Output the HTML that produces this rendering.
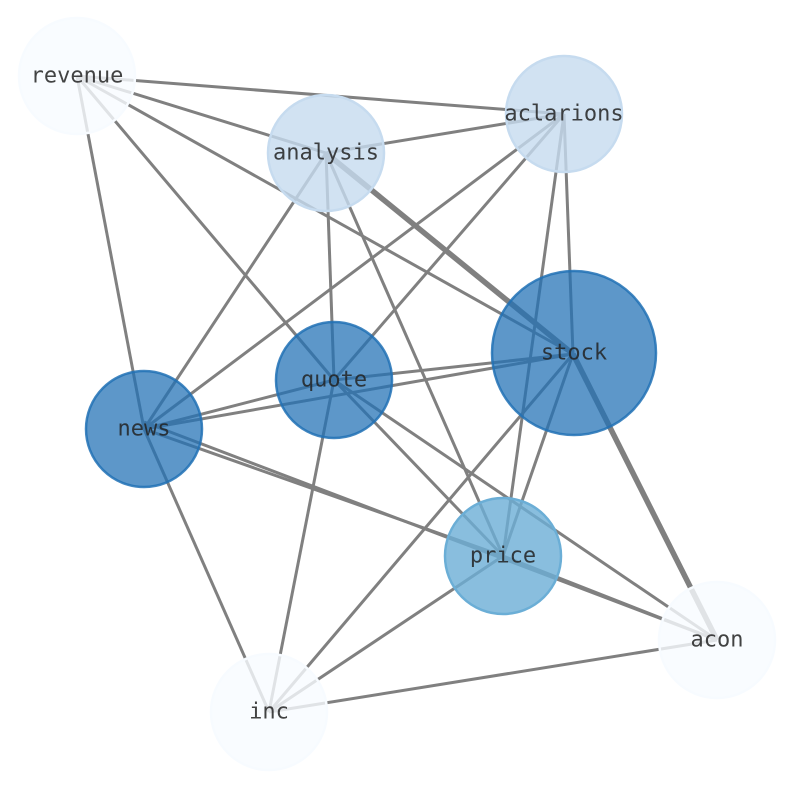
<!DOCTYPE html>
<html><head><style>body{margin:0;background:#fff}svg{display:block}</style></head><body>
<svg width="794" height="790" viewBox="0 0 794 790" xmlns="http://www.w3.org/2000/svg">
<g stroke="#808080" stroke-width="3">
<line x1="77" y1="76" x2="564" y2="114"/>
<line x1="77" y1="76" x2="326" y2="153"/>
<line x1="77" y1="76" x2="573" y2="354"/>
<line x1="77" y1="76" x2="334" y2="380"/>
<line x1="77" y1="76" x2="144" y2="429"/>
<line x1="564" y1="114" x2="326" y2="153"/>
<line x1="564" y1="114" x2="144" y2="429"/>
<line x1="564" y1="114" x2="334" y2="380"/>
<line x1="564" y1="114" x2="503" y2="556"/>
<line x1="564" y1="114" x2="573" y2="354"/>
<line x1="326" y1="153" x2="144" y2="429"/>
<line x1="326" y1="153" x2="334" y2="380"/>
<line x1="326" y1="153" x2="503" y2="556"/>
<line x1="326" y1="153" x2="573" y2="354" stroke-width="5.5"/>
<line x1="573" y1="354" x2="717" y2="640" stroke-width="5.5"/>
<line x1="573" y1="354" x2="334" y2="380"/>
<line x1="573" y1="354" x2="144" y2="429"/>
<line x1="573" y1="354" x2="503" y2="556"/>
<line x1="573" y1="354" x2="269" y2="712"/>
<line x1="334" y1="380" x2="144" y2="429"/>
<line x1="334" y1="380" x2="269" y2="712"/>
<line x1="334" y1="380" x2="503" y2="556"/>
<line x1="334" y1="380" x2="717" y2="640"/>
<line x1="144" y1="429" x2="503" y2="556"/>
<line x1="144" y1="422" x2="717" y2="640"/>
<line x1="144" y1="429" x2="269" y2="712"/>
<line x1="503" y1="556" x2="269" y2="712"/>
<line x1="503" y1="556" x2="717" y2="640"/>
<line x1="269" y1="712" x2="717" y2="640"/>
</g>
<g stroke-width="2.5">
<circle cx="77" cy="76" r="58" fill="#f7fbff" fill-opacity="0.8" stroke="#f7fbff"/>
<circle cx="564" cy="114" r="58" fill="#c6dbef" fill-opacity="0.8" stroke="#c6dbef"/>
<circle cx="326" cy="153" r="58" fill="#c6dbef" fill-opacity="0.8" stroke="#c6dbef"/>
<circle cx="574" cy="353" r="82" fill="#2171b5" fill-opacity="0.73" stroke="#2171b5" stroke-opacity="0.85"/>
<circle cx="334" cy="380" r="58" fill="#2171b5" fill-opacity="0.73" stroke="#2171b5" stroke-opacity="0.85"/>
<circle cx="144" cy="429" r="58" fill="#2171b5" fill-opacity="0.73" stroke="#2171b5" stroke-opacity="0.85"/>
<circle cx="503" cy="556" r="58" fill="#6baed6" fill-opacity="0.8" stroke="#6baed6"/>
<circle cx="717" cy="640" r="58" fill="#f7fbff" fill-opacity="0.8" stroke="#f7fbff"/>
<circle cx="269" cy="712" r="58" fill="#f7fbff" fill-opacity="0.8" stroke="#f7fbff"/>
</g>
<g font-family="DejaVu Sans Mono, Liberation Mono, monospace" font-size="22" fill="#222" fill-opacity="0.85" text-anchor="middle" dominant-baseline="central">
<text x="77" y="76">revenue</text>
<text x="564" y="114">aclarions</text>
<text x="326" y="153">analysis</text>
<text x="574" y="353">stock</text>
<text x="334" y="380">quote</text>
<text x="144" y="429">news</text>
<text x="503" y="556">price</text>
<text x="717" y="640">acon</text>
<text x="269" y="712">inc</text>
</g>
</svg>
</body></html>
